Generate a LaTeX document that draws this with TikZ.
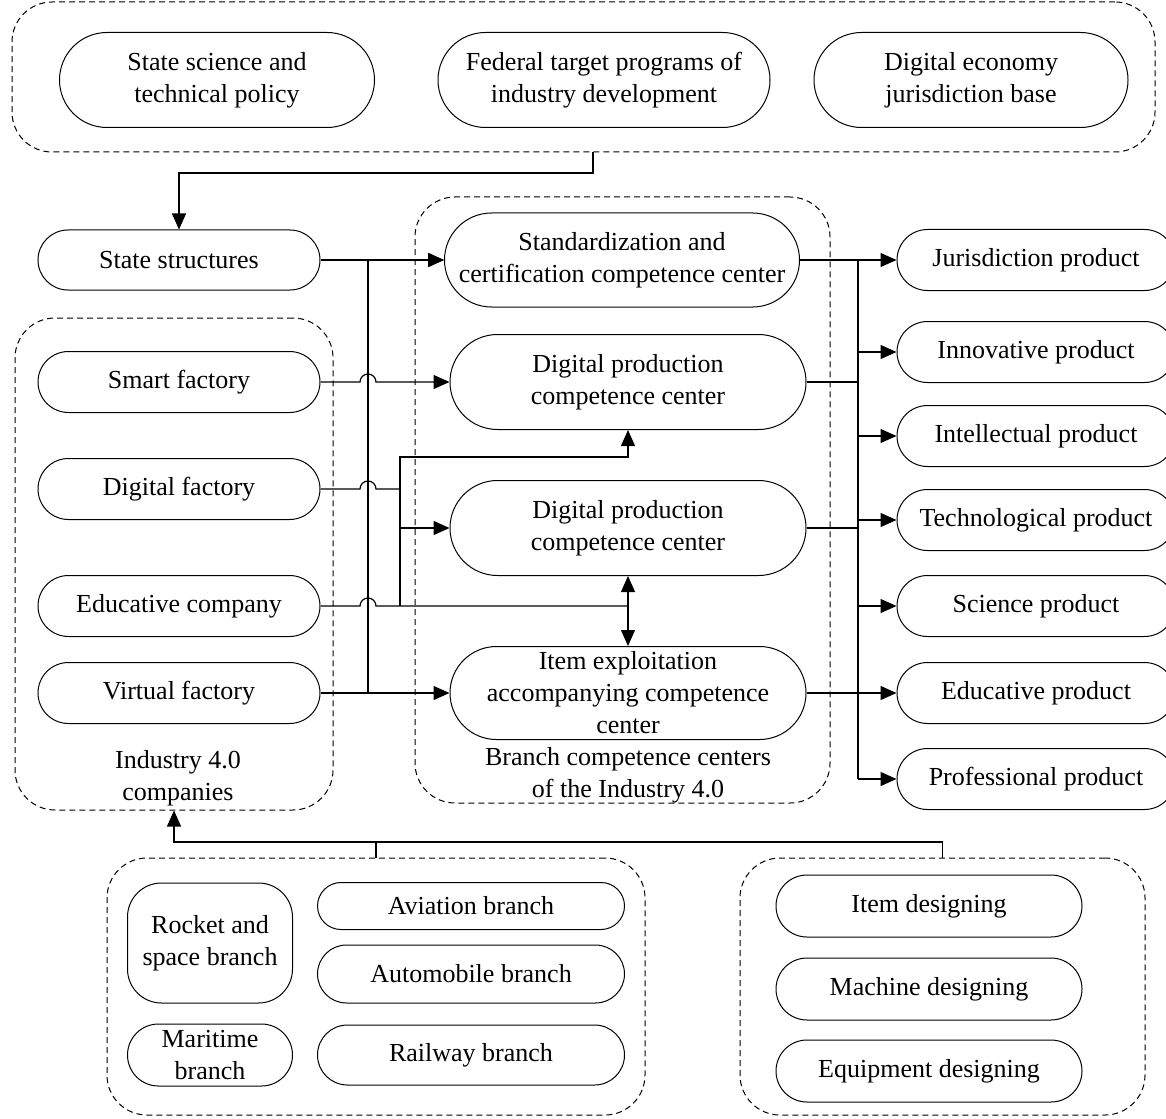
\documentclass[tikz,border=0pt]{standalone}
\usepackage{fontspec}
\setmainfont{Liberation Serif}
\usetikzlibrary{positioning}
\usetikzlibrary{fit}
\usetikzlibrary{arrows.meta}

\begin{document}
\begin{tikzpicture}[x=0.5pt, y=-0.5pt,
        every node/.style={font=\fontsize{13}{16}\selectfont},
        pill/.style 2 args={draw, line width=0.5pt, align=center, inner sep=1pt,
            minimum width={#1*0.5pt}, minimum height={#2*0.5pt}, rounded corners={#2*0.25pt}},
        prod/.style={pill={278}{61}},
        grp/.style={draw, line width=0.5pt, dash pattern=on 3pt off 2pt, rounded corners=20pt, inner sep=0pt},
        link/.style={line width=0.6pt},
        arr/.style={link, -{Triangle[length=8pt, width=7pt]}}]
    \useasboundingbox (0,0) rectangle (1166,1118);

    % policy
    \node[grp, fit={(12,2) (1155,152)}] (policy) {};
    \node[pill={315}{95}] (sci) at (217,80) {State science and\\technical policy};
    \node[pill={332}{95}] (fed) at (604,80) {Federal target programs of\\industry development};
    \node[pill={314}{95}] (base) at (971,80) {Digital economy\\jurisdiction base};

    \node[pill={282}{60}] (state) at (179,260) {State structures};

    % companies
    \node[grp, fit={(15,318) (333,810)}] (comp) {};
    \node[pill={282}{61}] (smart) at (179,382) {Smart factory};
    \node[pill={282}{61}] (digf) at (179,489) {Digital factory};
    \node[pill={282}{61}] (edu) at (179,606) {Educative company};
    \node[pill={282}{61}] (virt) at (179,693) {Virtual factory};
    \node[align=center] at (178,778) {Industry 4.0\\companies};

    % competence centers
    \node[grp, fit={(415,197) (830,803)}] (branch) {};
    \node[pill={355}{94}] (std) at (622,260) {Standardization and\\certification competence center};
    \node[pill={356}{95}] (dp1) at (628,382) {Digital production\\competence center};
    \node[pill={356}{95}] (dp2) at (628,528) {Digital production\\competence center};
    \node[pill={356}{93}] (itm) at (628,693) {Item exploitation\\accompanying competence\\center};
    \node[align=center] at (628,775) {Branch competence centers\\of the Industry 4.0};

    % products
    \node[prod] (jp) at (1036,260) {Jurisdiction product};
    \node[prod] (ip) at (1036,352) {Innovative product};
    \node[prod] (lp) at (1036,436) {Intellectual product};
    \node[prod] (tp) at (1036,520) {Technological product};
    \node[prod] (sp) at (1036,606) {Science product};
    \node[prod] (ep) at (1036,693) {Educative product};
    \node[prod] (pp) at (1036,779) {Professional product};

    % branches
    \node[grp, fit={(107,858) (645,1115)}] (branches) {};
    \node[pill={165}{120}, rounded corners=17pt] (rocket) at (210,943) {Rocket and\\space branch};
    \node[pill={307}{47}] (avia) at (471,906) {Aviation branch};
    \node[pill={307}{58}] (auto) at (471,974) {Automobile branch};
    \node[pill={165}{62}] (mari) at (210,1055) {Maritime\\branch};
    \node[pill={307}{60}] (rail) at (471,1055) {Railway branch};

    % designing
    \node[grp, fit={(740,858) (1145,1115)}] (design) {};
    \node[pill={306}{62}] (idsg) at (929,906) {Item designing};
    \node[pill={306}{62}] (mdsg) at (929,989) {Machine designing};
    \node[pill={306}{62}] (edsg) at (929,1071) {Equipment designing};

    \coordinate (bend) at (593,173);
    \coordinate (bus) at (0,842);
    \coordinate (vbus) at (368,0);
    \coordinate (sbus) at (400,0);
    \coordinate (fork) at (400,457);
    \coordinate (rbus) at (858,0);

    \draw[arr] (policy.south -| bend) -- (bend) -| (state.north);
    \draw[arr] (branches.north) -- (branches.north |- bus) -| (comp.south);
    \draw[link] (design.north) -- (design.north |- bus) -- (branches.north |- bus);

    \draw[arr] (state.east) -- (std.west);
    \draw[arr] (virt.east) -- (vbus |- virt.east) |- (std.west);
    \draw[arr] (virt.east) -- (itm.west);
    \draw[arr] (smart.east) -- ([xshift=-4pt]vbus |- smart.east)
        arc[start angle=180, end angle=0, radius=4pt] -- (dp1.west);
    \draw[link] (digf.east) -- ([xshift=-4pt]vbus |- digf.east)
        arc[start angle=180, end angle=0, radius=4pt] -- (sbus |- digf.east);
    \draw[arr] (sbus |- digf.east) |- (dp2.west);
    \draw[link] (edu.east) -- ([xshift=-4pt]vbus |- edu.east)
        arc[start angle=180, end angle=0, radius=4pt] -- (dp2.south |- edu.east);
    \draw[arr] (sbus |- edu.east) -- (fork) -| (dp1.south);
    \draw[arr] (dp2.south |- edu.east) -- (dp2.south);
    \draw[arr] (dp2.south |- edu.east) -- (itm.north);

    \foreach \n in {std, dp1, dp2, itm}
        \draw[link] (\n.east) -- (rbus |- \n.east);
    \draw[link] (rbus |- jp.west) -- (rbus |- pp.west);
    \foreach \n in {jp, ip, lp, tp, sp, ep, pp}
        \draw[arr] (rbus |- \n.west) -- (\n.west);
\end{tikzpicture}
\end{document}
